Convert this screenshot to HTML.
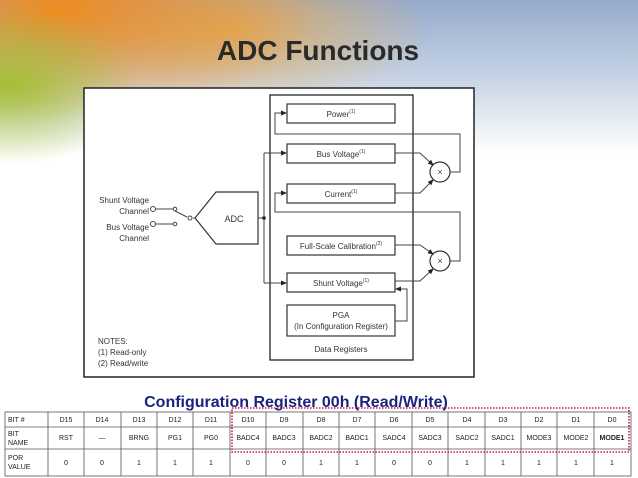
<!DOCTYPE html>
<html><head><meta charset="utf-8"><style>
html,body{margin:0;padding:0}
body{width:638px;height:478px;position:relative;overflow:hidden;background:#fff;font-family:"Liberation Sans",sans-serif}
.bg{position:absolute;left:0;top:0;width:638px;height:220px;
background:
radial-gradient(ellipse 130px 80px at 10px 85px, rgba(160,190,40,0.9), rgba(160,190,40,0) 100%),
radial-gradient(ellipse 260px 110px at 60px 10px, rgba(240,140,30,1), rgba(240,150,40,0) 100%),
radial-gradient(ellipse 200px 80px at 230px 30px, rgba(235,170,70,0.8), rgba(235,170,70,0) 100%),
linear-gradient(180deg, rgba(150,170,205,1) 0%, rgba(190,205,225,1) 30%, rgba(255,255,255,1) 70%);}
</style></head><body>
<div class="bg"></div>
<svg width="638" height="478" style="position:absolute;left:0;top:0" font-family="Liberation Sans, sans-serif">
<defs><marker id="a" markerWidth="6" markerHeight="6" refX="5" refY="3" orient="auto"><path d="M0,0.5 L6,3 L0,5.5z" fill="#222"/></marker></defs>
<text x="318" y="60" text-anchor="middle" font-size="28" font-weight="bold" fill="#2a2a2a">ADC Functions</text>
<rect x="84" y="88" width="390" height="289" fill="#fff" stroke="#222" stroke-width="1.5"/>
<rect x="270" y="95" width="143" height="265" fill="none" stroke="#222" stroke-width="1.3"/>
<g fill="#fff" stroke="#333" stroke-width="1.2">
<rect x="287" y="104" width="108" height="19"/>
<rect x="287" y="144" width="108" height="19"/>
<rect x="287" y="184" width="108" height="19"/>
<rect x="287" y="236" width="108" height="19"/>
<rect x="287" y="273" width="108" height="19"/>
<rect x="287" y="305" width="108" height="31"/>
<circle cx="440" cy="172" r="10"/>
<circle cx="440" cy="261" r="10"/>
<path d="M216,192 L258,192 L258,244 L216,244 L195,218 Z"/>
</g>
<g font-size="8" fill="#333" text-anchor="middle">
<text x="341" y="117">Power<tspan font-size="5" dy="-4">(1)</tspan></text>
<text x="341" y="157">Bus Voltage<tspan font-size="5" dy="-4">(1)</tspan></text>
<text x="341" y="197">Current<tspan font-size="5" dy="-4">(1)</tspan></text>
<text x="341" y="249">Full-Scale Calibration<tspan font-size="5" dy="-4">(2)</tspan></text>
<text x="341" y="286">Shunt Voltage<tspan font-size="5" dy="-4">(1)</tspan></text>
<text x="341" y="318">PGA</text>
<text x="341" y="329">(In Configuration Register)</text>
<text x="341" y="352">Data Registers</text>
<text x="234" y="222" font-size="9">ADC</text>
<text x="440" y="175" font-size="9">×</text>
<text x="440" y="264" font-size="9">×</text>
<text x="149" y="203" text-anchor="end">Shunt Voltage</text>
<text x="149" y="214" text-anchor="end">Channel</text>
<text x="149" y="230" text-anchor="end">Bus Voltage</text>
<text x="149" y="241" text-anchor="end">Channel</text>
</g>
<g font-size="8" fill="#333">
<text x="98" y="344">NOTES:</text>
<text x="98" y="355">(1) Read-only</text>
<text x="98" y="366">(2) Read/write</text>
</g>
<g fill="none" stroke="#444" stroke-width="1">
<path d="M258,218 L264,218 M264,153 L264,283"/>
<path d="M264,153 L286,153" marker-end="url(#a)"/>
<path d="M264,283 L286,283" marker-end="url(#a)"/>
<path d="M450,172 L460,172 L460,134 L275,134 L275,113 L286,113" marker-end="url(#a)"/>
<path d="M450,261 L460,261 L460,212 L275,212 L275,193 L286,193" marker-end="url(#a)"/>
<path d="M395,153 L420,153 L433,165" marker-end="url(#a)"/>
<path d="M395,193 L420,193 L433,180" marker-end="url(#a)"/>
<path d="M395,245 L420,245 L433,254" marker-end="url(#a)"/>
<path d="M395,281 L420,281 L433,269" marker-end="url(#a)"/>
<path d="M395,321 L407,321 L407,289 L396,289" marker-end="url(#a)"/>
<path d="M156,209 L173,209 M156,224 L173,224 M175,211 L187,217 M193,218 L196,218"/>
<circle cx="153" cy="209" r="2.5" fill="#fff"/>
<circle cx="153" cy="224" r="2.5" fill="#fff"/>
<circle cx="175" cy="209" r="1.8" fill="#fff"/>
<circle cx="175" cy="224" r="1.8" fill="#fff"/>
<circle cx="190" cy="218" r="2" fill="#fff"/>
</g>
<circle cx="264" cy="218" r="1.8" fill="#222"/>
<text x="296" y="407" text-anchor="middle" font-size="16" font-weight="bold" fill="#1a237e">Configuration Register 00h (Read/Write)</text>
<g stroke="#555" stroke-width="0.8" fill="none">
<rect x="5" y="412" width="626" height="64"/>
<line x1="5" y1="427" x2="631" y2="427"/>
<line x1="5" y1="449" x2="631" y2="449"/>
<path d="M48,412V476M84,412V476M121,412V476M157,412V476M193,412V476M230,412V476M266,412V476M303,412V476M339,412V476M375,412V476M412,412V476M448,412V476M485,412V476M521,412V476M557,412V476M594,412V476"/>
</g>
<rect x="232" y="408" width="397" height="44" fill="none" stroke="#c2185b" stroke-width="1.6" stroke-dasharray="1.5 1.5"/>
<g font-size="7" fill="#222" text-anchor="middle">
<text x="8" y="422" text-anchor="start">BIT #</text>
<text x="8" y="436" text-anchor="start">BIT</text><text x="8" y="445" text-anchor="start">NAME</text>
<text x="8" y="460" text-anchor="start">POR</text><text x="8" y="469" text-anchor="start">VALUE</text>
<text x="66" y="422">D15</text><text x="102" y="422">D14</text><text x="139" y="422">D13</text><text x="175" y="422">D12</text><text x="211" y="422">D11</text><text x="248" y="422">D10</text><text x="284" y="422">D9</text><text x="321" y="422">D8</text><text x="357" y="422">D7</text><text x="394" y="422">D6</text><text x="430" y="422">D5</text><text x="467" y="422">D4</text><text x="503" y="422">D3</text><text x="539" y="422">D2</text><text x="576" y="422">D1</text><text x="612" y="422">D0</text>
<text x="66" y="440">RST</text><text x="102" y="440">—</text><text x="139" y="440">BRNG</text><text x="175" y="440">PG1</text><text x="211" y="440">PG0</text><text x="248" y="440">BADC4</text><text x="284" y="440">BADC3</text><text x="321" y="440">BADC2</text><text x="357" y="440">BADC1</text><text x="394" y="440">SADC4</text><text x="430" y="440">SADC3</text><text x="467" y="440">SADC2</text><text x="503" y="440">SADC1</text><text x="539" y="440">MODE3</text><text x="576" y="440">MODE2</text><text x="612" y="440" font-weight="bold">MODE1</text>
<text x="66" y="465">0</text><text x="102" y="465">0</text><text x="139" y="465">1</text><text x="175" y="465">1</text><text x="211" y="465">1</text><text x="248" y="465">0</text><text x="284" y="465">0</text><text x="321" y="465">1</text><text x="357" y="465">1</text><text x="394" y="465">0</text><text x="430" y="465">0</text><text x="467" y="465">1</text><text x="503" y="465">1</text><text x="539" y="465">1</text><text x="576" y="465">1</text><text x="612" y="465">1</text>
</g>
</svg>
</body></html>
